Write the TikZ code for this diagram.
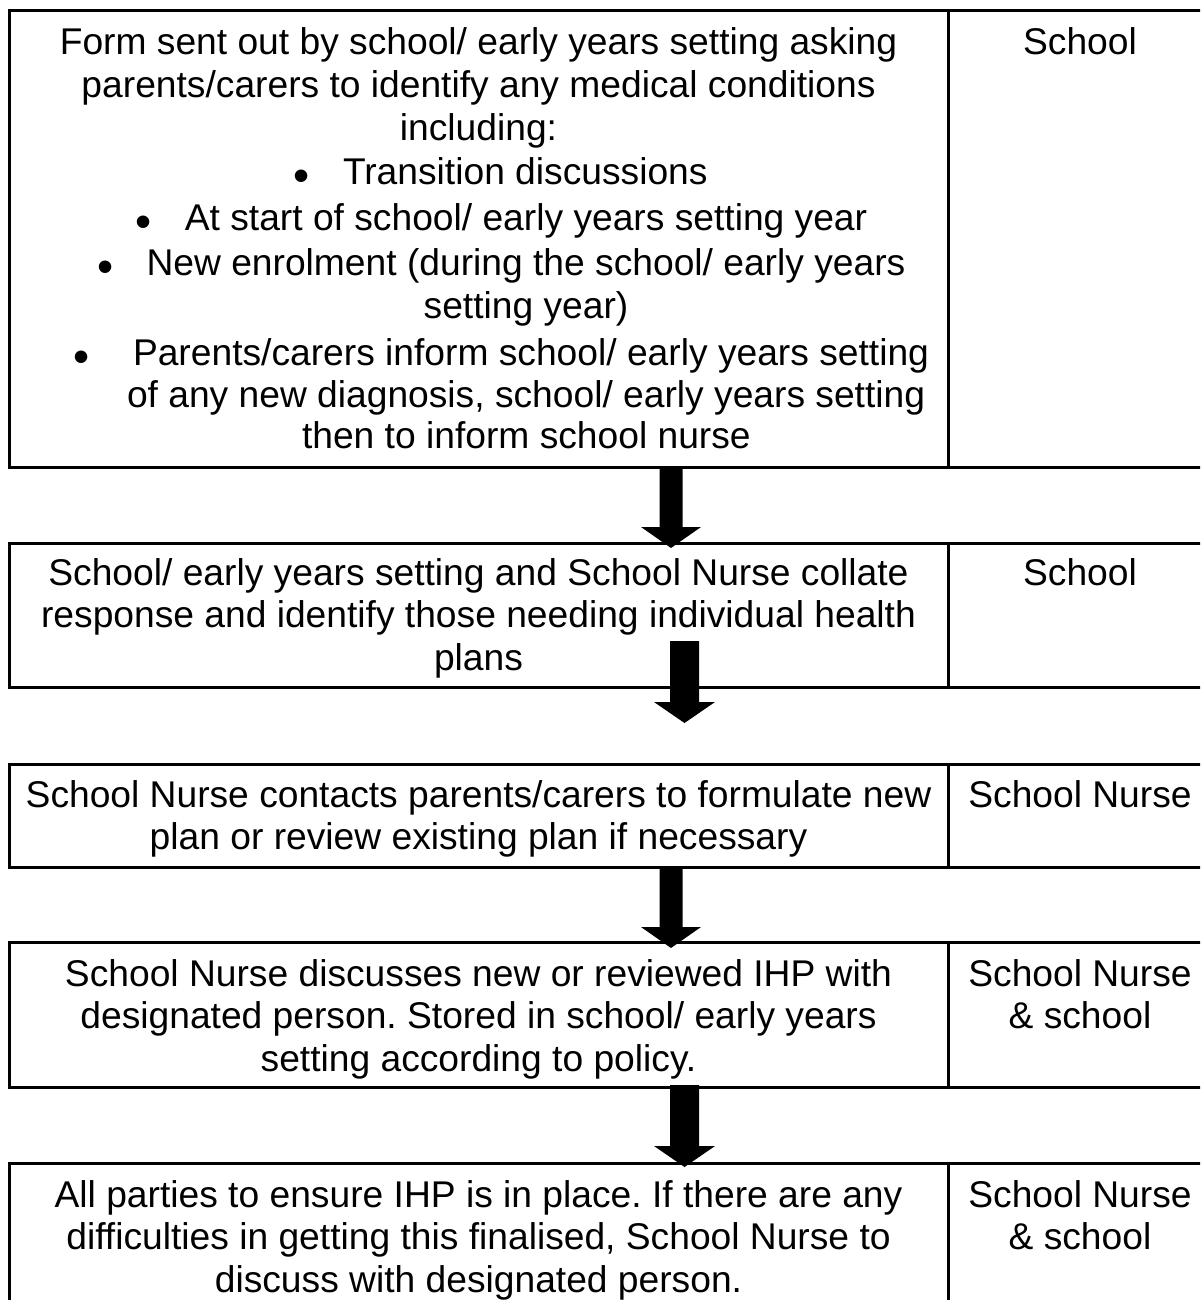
\documentclass[tikz,border=0pt]{standalone}
\usepackage{fontspec}
\setmainfont{Liberation Sans}
\usetikzlibrary{calc}
\tikzset{
  cell/.style={draw=black, line width=3pt, inner sep=0pt, outer sep=0pt, rectangle, anchor=north west},
  txt/.style={inner sep=0pt, outer sep=0pt, font=\fontsize{37.2}{42.8}\selectfont, anchor=base},
  ltxt/.style={txt, anchor=base west},
  bul/.style={inner sep=0pt, outer sep=0pt, font=\fontsize{46}{46}\selectfont, anchor=base},
}
\newcommand\fatarrow[5]{%
  \fill[black] let \p1=(#1), \p2=(#2) in
    (\x1-#3,\y1) -- (\x1+#3,\y1) -- (\x1+#3,\y2+#5) -- (\x1+#4,\y2+#5) --
    (\x1,\y2) -- (\x1-#4,\y2+#5) -- (\x1-#3,\y2+#5) -- cycle;}
\begin{document}
\frenchspacing
\begin{tikzpicture}[x=1pt,y=-1pt]
\useasboundingbox (0,0) rectangle (1200,1300);
\fill[white] (0,0) rectangle (1200,1300);
\clip (0,0) rectangle (1200,1300);

% cells
\node[cell, minimum width=939pt, minimum height=456pt] (b1) at (9,11) {};
\node[cell, minimum width=264pt, minimum height=456pt] (r1) at (948,11) {};
\node[cell, minimum width=939pt, minimum height=144pt] (b2) at (9,543) {};
\node[cell, minimum width=264pt, minimum height=144pt] (r2) at (948,543) {};
\node[cell, minimum width=939pt, minimum height=103pt] (b3) at (9,764) {};
\node[cell, minimum width=264pt, minimum height=103pt] (r3) at (948,764) {};
\node[cell, minimum width=939pt, minimum height=145pt] (b4) at (9,942) {};
\node[cell, minimum width=264pt, minimum height=145pt] (r4) at (948,942) {};
\node[cell, minimum width=939pt, minimum height=160pt] (b5) at (9,1163) {};
\node[cell, minimum width=264pt, minimum height=160pt] (r5) at (948,1163) {};

% box 1 text
\node[txt] (t1a) at (478.5,55) {Form sent out by school/ early years setting asking};
\node[txt] (t1b) at (478.5,97.8) {parents/carers to identify any medical conditions};
\node[txt] (t1c) at (478.5,140.6) {including:};
\node[bul] (u1) at (302,192) {•};
\node[ltxt] (t1d) at (343,185) {Transition discussions};
\node[bul] (u2) at (144,237) {•};
\node[txt] (t1e) at (526,230) {At start of school/ early years setting year};
\node[bul] (u3) at (106,282) {•};
\node[txt] (t1f) at (526,275) {New enrolment (during the school/ early years};
\node[txt] (t1g) at (526,318) {setting year)};
\node[bul] (u4) at (82,372) {•};
\node[ltxt] (t1h) at (133,365) {Parents/carers inform school/ early years setting};
\node[ltxt] (t1i) at (127,407) {of any new diagnosis, school/ early years setting};
\node[ltxt] (t1j) at (302,448) {then to inform school nurse};
\node[txt] (s1) at (1080,55) {School};

% box 2 text
\node[txt] (t2a) at (478.5,585) {School/ early years setting and School Nurse collate};
\node[txt] (t2b) at (478.5,627.8) {response and identify those needing individual health};
\node[txt] (t2c) at (478.5,670.6) {plans};
\node[txt] (s2) at (1080,585) {School};

% box 3 text
\node[txt] (t3a) at (478.5,807) {School Nurse contacts parents/carers to formulate new};
\node[txt] (t3b) at (478.5,849.8) {plan or review existing plan if necessary};
\node[txt] (s3) at (1080,807) {School Nurse};

% box 4 text
\node[txt] (t4a) at (478.5,986) {School Nurse discusses new or reviewed IHP with};
\node[txt] (t4b) at (478.5,1028.8) {designated person. Stored in school/ early years};
\node[txt] (t4c) at (478.5,1071.6) {setting according to policy.};
\node[txt] (s4a) at (1080,986) {School Nurse};
\node[txt] (s4b) at (1080,1028.8) {\& school};

% box 5 text
\node[txt] (t5a) at (478.5,1207) {All parties to ensure IHP is in place. If there are any};
\node[txt] (t5b) at (478.5,1249.8) {difficulties in getting this finalised, School Nurse to};
\node[txt] (t5c) at (478.5,1292.6) {discuss with designated person.};
\node[txt] (s5a) at (1080,1207) {School Nurse};
\node[txt] (s5b) at (1080,1249.8) {\& school};

% arrows
\coordinate (ax1) at (671,0);
\coordinate (ax2) at (684.5,0);
\fatarrow{b1.south -| ax1}{$(b2.north -| ax1)+(0,5)$}{11.5pt}{30pt}{21pt}
\fatarrow{$(b2.south -| ax2)+(0,-46)$}{$(b3.north -| ax2)+(0,-41)$}{14.5pt}{30.5pt}{21pt}
\fatarrow{b3.south -| ax1}{$(b4.north -| ax1)+(0,6)$}{11.5pt}{30pt}{21pt}
\fatarrow{$(b4.south -| ax2)+(0,-2)$}{$(b5.north -| ax2)+(0,4)$}{14.5pt}{30.5pt}{21pt}
\end{tikzpicture}
\end{document}
